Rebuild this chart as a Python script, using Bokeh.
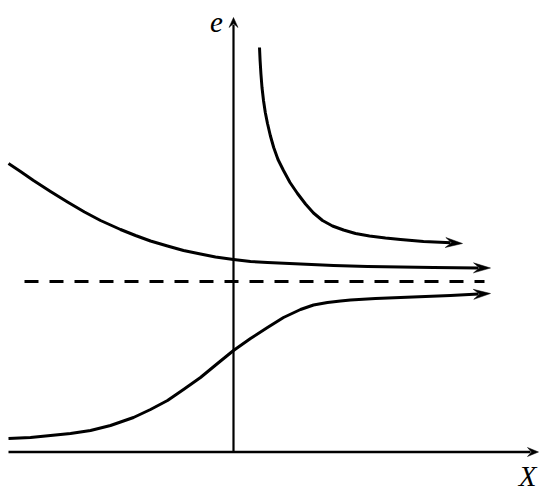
import math
from bokeh.plotting import figure
from bokeh.models import Range1d
from bokeh.core.properties import value
from bokeh.embed import file_html
from bokeh.resources import INLINE

# Data (units: horizontal X, vertical e), origin at the axes crossing
top_x = [0.26, 0.266, 0.274, 0.285, 0.30, 0.318, 0.34, 0.368, 0.402, 0.445, 0.50, 0.565, 0.64,
         0.72, 0.80, 0.89, 0.99, 1.10, 1.22, 1.36, 1.52, 1.67, 1.90, 2.12, 2.29]
top_y = [4.05, 3.92, 3.79, 3.65, 3.52, 3.40, 3.29, 3.17, 3.05, 2.93, 2.82, 2.70, 2.59,
         2.485, 2.395, 2.32, 2.265, 2.225, 2.19, 2.165, 2.145, 2.13, 2.11, 2.10, 2.09]

mid_x = [-2.25, -2.13, -2.00, -1.83, -1.66, -1.49, -1.33, -1.13, -0.98, -0.83, -0.66, -0.50,
         -0.33, -0.18, 0.00, 0.17, 0.34, 0.67, 1.00, 1.34, 1.67, 2.00, 2.57]
mid_y = [2.89, 2.81, 2.72, 2.61, 2.505, 2.405, 2.32, 2.23, 2.17, 2.115, 2.065, 2.02,
         1.985, 1.955, 1.93, 1.91, 1.90, 1.885, 1.87, 1.86, 1.855, 1.85, 1.845]

bot_x = [-2.25, -2.03, -1.83, -1.63, -1.43, -1.23, -1.00, -0.83, -0.66, -0.50, -0.33, -0.16,
         0.00, 0.17, 0.34, 0.50, 0.67, 0.80, 0.94, 1.07, 1.17, 1.42, 1.67, 2.17, 2.57]
bot_y = [0.14, 0.15, 0.17, 0.19, 0.22, 0.27, 0.35, 0.43, 0.52, 0.63, 0.75, 0.89,
         1.02, 1.14, 1.25, 1.35, 1.43, 1.475, 1.50, 1.515, 1.525, 1.54, 1.55, 1.57, 1.59]

dash_x = [-2.09, 2.51]
dash_y = [1.71, 1.71]

xaxis_x = [-2.25, 3.05]
xaxis_y = [0.005, 0.005]
yaxis_x = [0.0, 0.0]
yaxis_y = [0.01, 4.35]

labels = ["e", "X"]

p = figure(width=554, height=496, output_backend="svg", toolbar_location=None,
           x_range=Range1d(-2.33, 3.21), y_range=Range1d(-0.44, 4.52),
           min_border=0, min_border_left=0, min_border_right=0,
           min_border_top=0, min_border_bottom=0)
p.axis.visible = False
p.grid.visible = False
p.outline_line_color = None
p.background_fill_color = "white"
p.border_fill_color = "white"

UNIT = 100.0  # pixels per data unit (same on both axes)


def arrow_line(xs, ys, width, L, W, N):
    x1, y1 = xs[-1], ys[-1]
    x0, y0 = xs[-2], ys[-2]
    dx, dy = x1 - x0, y1 - y0
    d = math.hypot(dx, dy)
    ux, uy = dx / d, dy / d
    nx, ny = -uy, ux
    L, W, N = L / UNIT, W / UNIT, N / UNIT
    hx = [x1, x1 - L * ux + W * nx, x1 - N * ux, x1 - L * ux - W * nx]
    hy = [y1, y1 - L * uy + W * ny, y1 - N * uy, y1 - L * uy - W * ny]
    lx = list(xs[:-1]) + [x1 - (N + 1 / UNIT) * ux]
    ly = list(ys[:-1]) + [y1 - (N + 1 / UNIT) * uy]
    p.line(lx, ly, line_color="black", line_width=width, line_join="round")
    p.patch(hx, hy, fill_color="black", line_color="black", line_width=0.5)


# axes
arrow_line(xaxis_x, xaxis_y, 2.6, 11, 4.5, 7)
arrow_line(yaxis_x, yaxis_y, 2.2, 10, 4.5, 6)

# curves
arrow_line(top_x, top_y, 3, 17, 5, 11)
arrow_line(mid_x, mid_y, 3, 17, 5, 11)
arrow_line(bot_x, bot_y, 3, 17, 5, 11)

p.line(dash_x, dash_y, line_color="black", line_width=3, line_dash="14 11")

p.text([-0.17], [4.30], text=[labels[0]], text_font=value("Liberation Serif"),
       text_font_style="italic", text_font_size="29px", text_align="center",
       text_baseline="middle", text_color="black")
p.text([2.94], [-0.23], text=[labels[1]], text_font=value("Liberation Serif"),
       text_font_style="italic", text_font_size="29px", text_align="center",
       text_baseline="middle", text_color="black")

open("out.html", "w").write(file_html(p, INLINE))
